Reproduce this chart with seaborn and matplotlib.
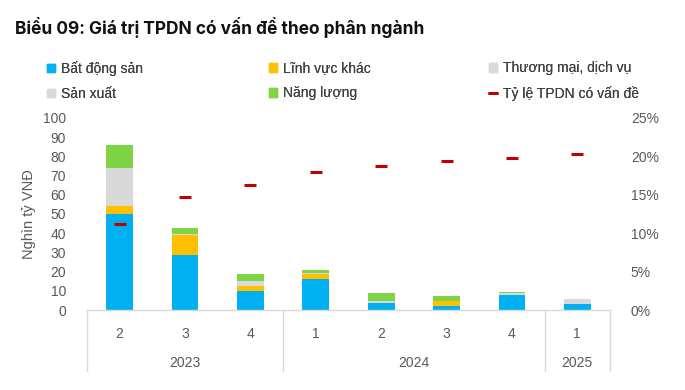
import matplotlib
matplotlib.use("Agg")
import matplotlib.pyplot as plt
import seaborn as sns
import numpy as np
import pandas as pd
from matplotlib.patches import Patch
from matplotlib.lines import Line2D

# ---- data ----
quarters = ["2", "3", "4", "1", "2", "3", "4", "1"]
years = ["2023", "2023", "2023", "2024", "2024", "2024", "2024", "2025"]
bat_dong_san = [50.0, 28.6, 10.0, 16.3, 3.8, 2.2, 7.6, 3.3]
linh_vuc_khac = [4.3, 10.3, 2.7, 2.6, 0.0, 2.4, 0.3, 0.0]
thuong_mai = [4.0, 0.2, 0.8, 0.2, 0.3, 0.0, 0.4, 1.0]
san_xuat = [15.5, 0.3, 1.6, 0.3, 0.4, 0.1, 0.5, 1.4]
nang_luong = [12.0, 3.2, 3.6, 1.4, 4.2, 2.6, 0.6, 0.0]
ty_le = [11.2, 14.7, 16.3, 18.0, 18.8, 19.4, 19.75, 20.3]

series_names = ["Bất động sản", "Lĩnh vực khác", "Thương mại, dịch vụ", "Sản xuất", "Năng lượng"]
series_vals = [bat_dong_san, linh_vuc_khac, thuong_mai, san_xuat, nang_luong]
series_colors = ["#00B0F0", "#FFC000", "#D9D9D9", "#D9D9D9", "#7ED444"]
rate_name = "Tỷ lệ TPDN có vấn đề"
rate_color = "#C00000"

sns.set_style("white")
plt.rcParams["font.family"] = ["Liberation Sans", "DejaVu Sans"]

W, H = 685, 390
fig = plt.figure(figsize=(W / 100, H / 100), dpi=100)
ax = fig.add_axes([87 / W, 1 - 310 / H, (610 - 87) / W, (310 - 118) / H])

keys = [f"{y}-{q}" for y, q in zip(years, quarters)]
bottom = np.zeros(len(keys))
for name, vals, col in zip(series_names, series_vals, series_colors):
    df = pd.DataFrame({"k": keys, "v": vals})
    sns.barplot(data=df, x="k", y="v", bottom=bottom.copy(), color=col,
                width=0.41, ax=ax, linewidth=0, saturation=1, errorbar=None)
    bottom += np.array(vals)

ax.set_ylim(0, 100)
ax.set_xlim(-0.5, len(keys) - 0.5)
ax.set_yticks(range(0, 101, 10))
ax.set_xlabel("")
ax.set_ylabel("Nghìn tỷ VNĐ", fontsize=10.5, color="#595959", labelpad=5)
for s in ["top", "right", "left"]:
    ax.spines[s].set_visible(False)
ax.spines["bottom"].set_color("#D9D9D9")
ax.spines["bottom"].set_linewidth(1)
ax.tick_params(axis="y", length=0, labelsize=10, labelcolor="#595959", pad=15)
ax.set_xticks(range(len(keys)))
ax.set_xticklabels(quarters)
ax.tick_params(axis="x", length=0, labelsize=10, labelcolor="#595959", pad=12)

# year group labels and dividers
tr = ax.get_xaxis_transform()
axh = 310 - 118
groups = []
for i, y in enumerate(years):
    if not groups or groups[-1][0] != y:
        groups.append([y, i, i])
    else:
        groups[-1][2] = i
for y, a, b in groups:
    ax.text((a + b) / 2, -53 / axh, y, transform=tr, ha="center", va="center",
            fontsize=10, color="#595959")
edges = [-0.5] + [b + 0.5 for _, _, b in groups]
for e in edges:
    ax.add_line(Line2D([e, e], [0, -61 / axh], transform=tr, color="#D9D9D9",
                       lw=1, clip_on=False))

# secondary axis
ax2 = ax.twinx()
sns.scatterplot(x=np.arange(len(keys)), y=ty_le, marker="_", s=70,
                color=rate_color, linewidth=2.2, ax=ax2, legend=False, zorder=5)
ax2.set_ylim(0, 25)
ax2.set_yticks(range(0, 26, 5))
ax2.set_yticklabels([f"{v}%" for v in range(0, 26, 5)])
ax2.tick_params(axis="y", length=0, labelsize=10, labelcolor="#595959", pad=15)
for s in ["top", "right", "left", "bottom"]:
    ax2.spines[s].set_visible(False)
ax2.set_ylabel("")

# legend (three columns)
leg_font = dict(size=10)
handles = [Patch(color=c) for c in series_colors]
labels = list(series_names)
handles.append(Line2D([], [], color=rate_color, lw=2))
labels.append(rate_name)
cols = [(0, 3), (1, 4), (2, 5)]
col_x = [47, 269, 489]
for (i, j), x in zip(cols, col_x):
    lg = fig.legend([handles[i], handles[j]], [labels[i], labels[j]],
                    loc="upper left", bbox_to_anchor=(x / W, 1 - 61 / H),
                    frameon=False, prop=leg_font, labelcolor="#404040",
                    handlelength=0.6, handleheight=0.6, handletextpad=0.4,
                    labelspacing=0.8, borderaxespad=0, borderpad=0)
    fig.add_artist(lg)

fig.text(15 / W, 1 - 28 / H, "Biểu 09: Giá trị TPDN có vấn đề theo phân ngành",
         family=["Inter", "DejaVu Sans"], fontweight="bold", fontsize=12.5,
         color="#111111", va="center", ha="left")

fig.savefig("out.png", dpi=100)
